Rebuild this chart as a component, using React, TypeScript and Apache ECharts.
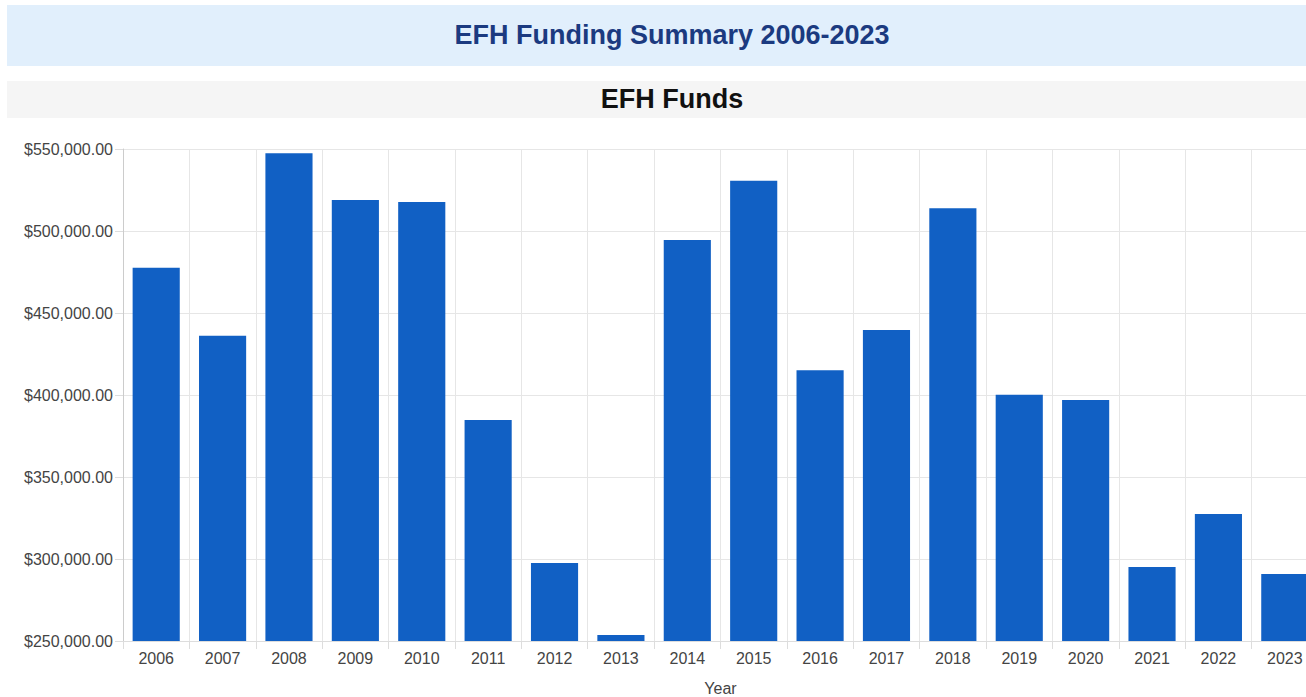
import React, { useEffect, useRef } from "react";
import * as echarts from "echarts";

const years = ["2006","2007","2008","2009","2010","2011","2012","2013","2014","2015","2016","2017","2018","2019","2020","2021","2022","2023"];
const funds = [477600, 436200, 547400, 518900, 517700, 384800, 297600, 253700, 494500, 530700, 415100, 439600, 513800, 400200, 397000, 295100, 327400, 290900];
const mainTitle = "EFH Funding Summary 2006-2023";
const chartTitle = "EFH Funds";
const xAxisName = "Year";

const fmt = (v: number) =>
  "$" + v.toLocaleString("en-US", { minimumFractionDigits: 2, maximumFractionDigits: 2 });

export default function App() {
  const ref = useRef<HTMLDivElement>(null);
  useEffect(() => {
    if (!ref.current) return;
    const chart = echarts.init(ref.current, null, { renderer: "svg" });
    chart.setOption({
      animation: false,
      textStyle: { fontFamily: "Liberation Sans, Arial, sans-serif" },
      graphic: [
        { type: "rect", shape: { x: 7, y: 5, width: 1330, height: 61 }, style: { fill: "#E1EFFC" }, z: -10 },
        { type: "rect", shape: { x: 7, y: 81, width: 1330, height: 37 }, style: { fill: "#F5F5F5" }, z: -10 },
      ],
      title: [
        {
          text: mainTitle,
          left: 667,
          top: 30,
          textAlign: "center",
          textVerticalAlign: "middle",
          textStyle: { fontSize: 27, fontWeight: "bold", color: "#1B3A80", fontFamily: "Liberation Sans, Arial, sans-serif" },
        },
        {
          text: chartTitle,
          left: 667,
          top: 94,
          textAlign: "center",
          textVerticalAlign: "middle",
          textStyle: { fontSize: 27, fontWeight: "bold", color: "#111", fontFamily: "Liberation Sans, Arial, sans-serif" },
        },
      ],
      grid: { left: 123, top: 149, height: 492, width: 1195, containLabel: false, outerBoundsMode: "none" },
      xAxis: {
        type: "category",
        data: years,
        name: xAxisName,
        nameLocation: "middle",
        nameGap: 39,
        nameTextStyle: { fontSize: 16, color: "#444" },
        axisLine: { show: true, lineStyle: { color: "#ddd" } },
        axisTick: { show: true, length: 8, lineStyle: { color: "#ddd" } },
        axisLabel: { fontSize: 16, color: "#444", margin: 9 },
        splitLine: { show: true, lineStyle: { color: "#e6e6e6" } },
      },
      yAxis: {
        type: "value",
        min: 250000,
        max: 550000,
        interval: 50000,
        axisLine: { show: true, lineStyle: { color: "#ccc" } },
        axisTick: { show: true, length: 8, lineStyle: { color: "#ddd" } },
        axisLabel: { fontSize: 16, color: "#444", margin: 10, formatter: (v: number) => fmt(v) },
        splitLine: { show: true, lineStyle: { color: "#e6e6e6" } },
      },
      series: [
        {
          type: "bar",
          data: funds,
          barCategoryGap: "29%",
          itemStyle: { color: "#1160C4" },
        },
      ],
    });
    return () => chart.dispose();
  }, []);
  return (
    <div style={{ position: "absolute", left: 0, top: 0, width: 1306, height: 697, overflow: "hidden" }}>
      <div ref={ref} style={{ width: 1345, height: 697 }} />
    </div>
  );
}
